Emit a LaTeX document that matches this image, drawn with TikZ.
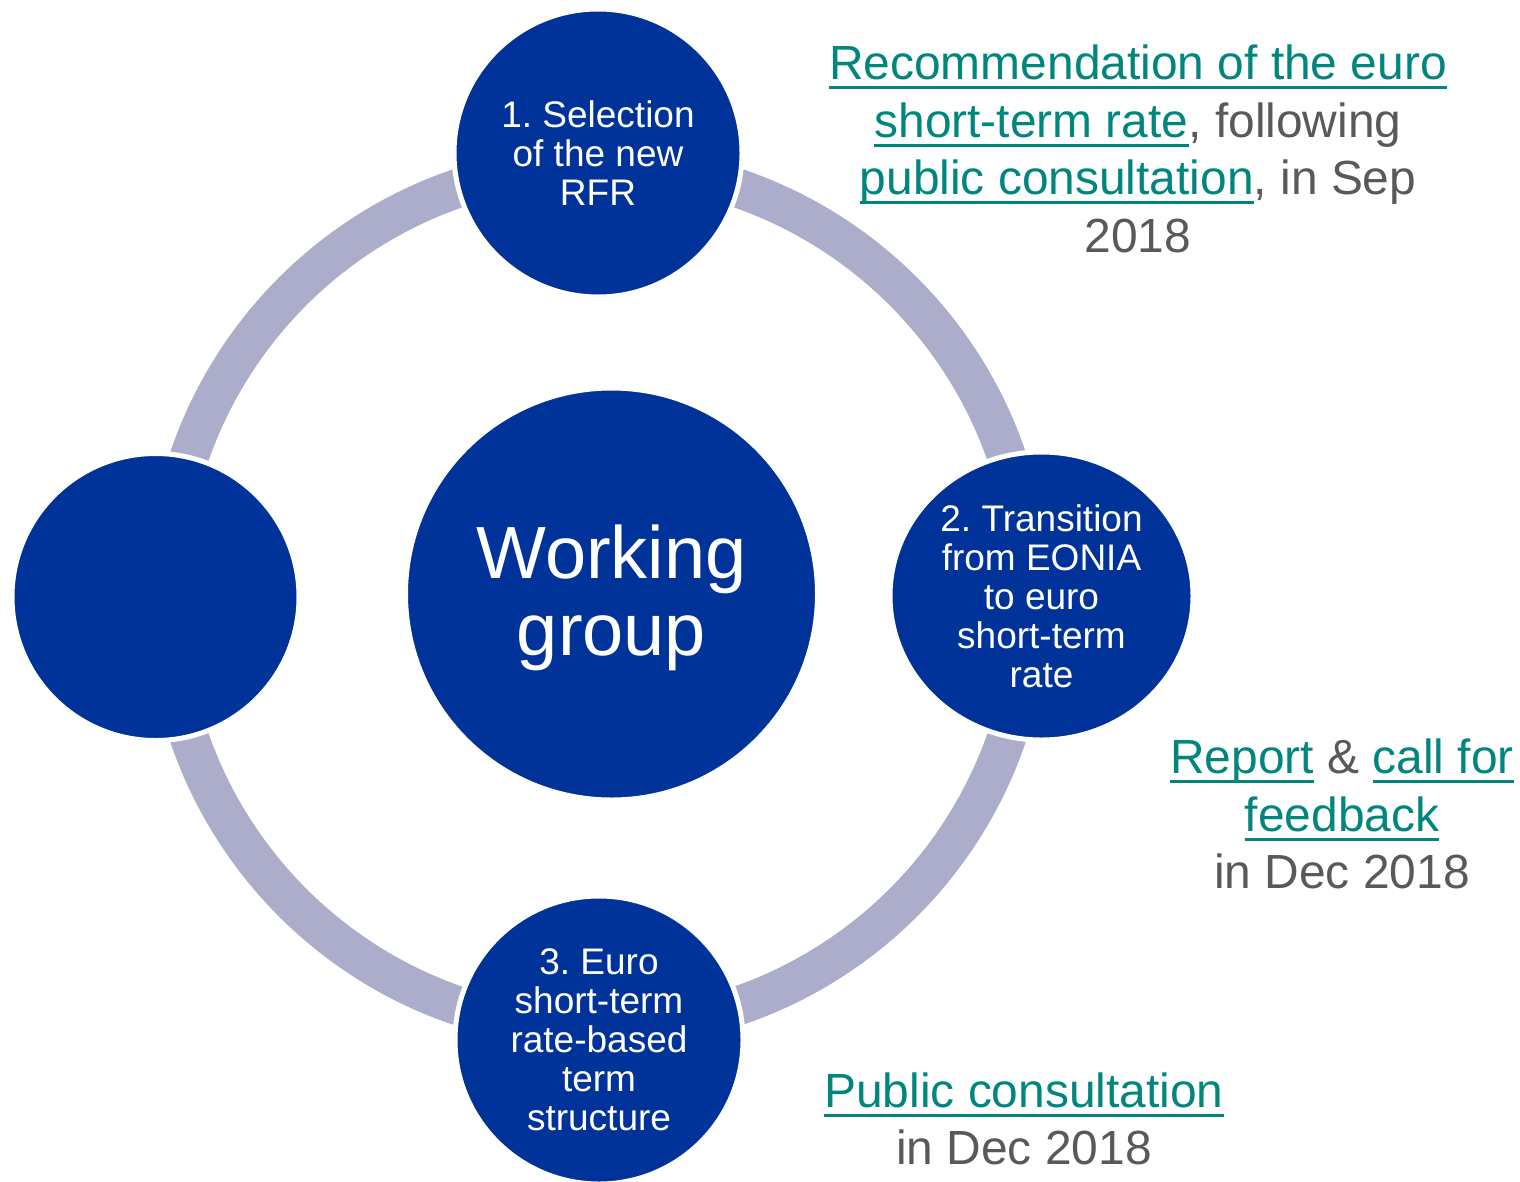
\documentclass[tikz,border=0pt]{standalone}
\usepackage{fontspec}
\setmainfont{Liberation Sans}
\usetikzlibrary{shapes.geometric}
\definecolor{ecbblue}{RGB}{0,51,153}
\definecolor{ringgray}{RGB}{171,173,202}
\definecolor{linkteal}{RGB}{0,134,125}
\definecolor{txtgray}{RGB}{89,89,89}
\frenchspacing
\newcommand{\lnk}[1]{\leavevmode{\color{linkteal}\setbox0\hbox{#1}\rlap{\rule[-9.5pt]{\wd0}{3pt}}\box0}}
\begin{document}
\begin{tikzpicture}[x=1pt,y=-1pt,
  bubble/.style={shape=circle, fill=ecbblue, draw=white, line width=5pt, inner sep=0pt,
    text=white, align=center, minimum size=288pt, font=\fontsize{37}{39}\selectfont},
  note/.style={align=center, text=txtgray, inner sep=0pt, font=\fontsize{47.9}{57.5}\selectfont}]
\useasboundingbox (0,0) rectangle (1520,1181);
\coordinate (ringc) at (598,597);
\draw[ringgray, line width=39pt] (ringc) circle[radius=432];
\node[bubble] (top) at (598,153) {1. Selection\\of the new\\RFR};
\node[bubble, shape=ellipse, minimum width=303pt, minimum height=288pt] (right) at (1041.5,596) {2. Transition\\from EONIA\\to euro\\short-term\\rate};
\node[bubble] (bottom) at (599,1040) {3. Euro\\short-term\\rate-based\\term\\structure};
\node[bubble, minimum size=287pt] (left) at (155.5,597) {};
\node[bubble, minimum size=412pt] (center) at (611.5,594) {};
\node[text=white, align=center, inner sep=0pt, font=\fontsize{74}{77}\selectfont] (cap) at (611.5,598) {Working\\group};
\node[note] (n1) at (1138,149) {\lnk{Recommendation of the euro}\\\lnk{short-term rate}, following\\\lnk{public consultation}, in Sep\\2018};
\node[note] (n2) at (1342,814) {\lnk{Report} \& \lnk{call for}\\\lnk{feedback}\\in Dec 2018};
\node[note] (n3) at (1024,1119) {\lnk{Public consultation}\\in Dec 2018};
\end{tikzpicture}
\end{document}
